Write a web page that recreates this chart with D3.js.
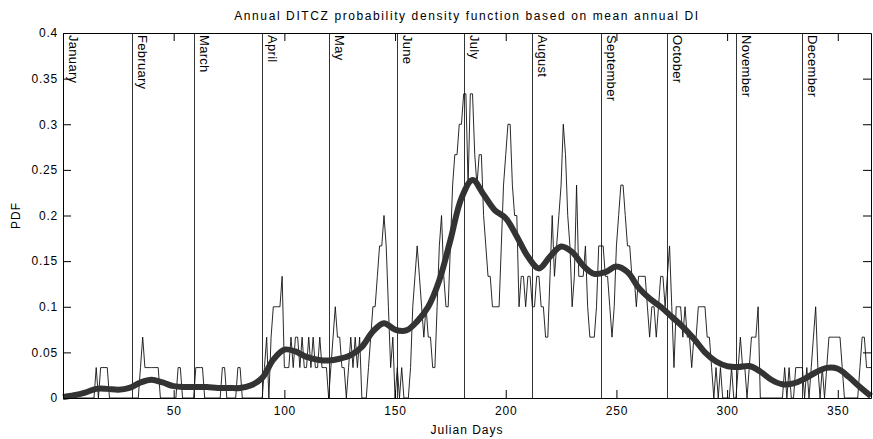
<!DOCTYPE html>
<html>
<head>
<meta charset="utf-8">
<script src="https://cdn.jsdelivr.net/npm/d3@7"></script>
<style>
  body { margin: 0; background: #fff; }
  svg { font-family: "Liberation Sans", Arial, sans-serif; }
</style>
</head>
<body>
<div id="graf"></div>
<script>
// Datos leidos de la figura
// conteo diario de anios (de 30) con DITCZ en ese dia -> PDF = conteo / 30
const conteoDiario = [
  0,0,0,0,0,0,0,0,0,0,   0,0,0,0,1,0,1,1,1,1,
  0,0,0,0,0,0,0,0,0,0,   0,0,0,0,1,2,1,1,1,1,
  1,1,1,0,0,0,0,0,0,0,   0,1,1,0,0,0,0,0,0,1,
  1,1,1,0,0,0,0,0,0,0,   0,1,1,0,0,0,0,0,1,1,
  0,0,0,0,0,0,0,0,0,0,   1,2,0,2,3,3,3,3,4,1,
  1,1,2,1,2,2,1,2,1,1,   2,1,2,1,1,2,1,1,1,0,
  1,2,3,2,2,1,1,0,1,2,   1,2,1,2,0,0,0,1,2,3,
  3,4,5,5,6,5,3,1,2,0,   1,0,1,0,0,0,1,3,4,5,
  4,3,2,3,2,2,1,1,3,5,   6,4,3,3,5,7,8,8,9,9,
  10,10,7,10,10,8,7,8,8,6, 5,4,4,3,3,3,3,5,7,8,
  9,9,7,6,6,3,4,4,3,4,   4,3,3,4,4,3,3,2,2,4,
  6,4,5,6,7,9,8,6,5,3,   4,7,4,4,4,5,3,2,2,2,
  3,5,5,5,4,4,3,2,3,5,   6,7,7,6,5,5,4,4,3,4,
  4,4,4,3,2,3,3,2,3,4,   4,3,4,5,3,1,3,3,3,2,
  3,2,2,1,2,2,3,3,3,3,   2,2,1,0,1,0,1,0,0,0,
  0,1,0,0,1,2,1,1,0,1,   2,2,2,3,0,0,0,0,0,0,
  0,0,0,0,0,1,0,1,0,0,   1,1,1,1,0,1,0,1,2,3,
  1,0,1,0,1,2,2,2,2,2,   2,1,0,0,0,0,0,0,0,1,
  2,2,1,1,1
]
const anios = 30

// curva suavizada, un valor cada 5 dias (0..365)
const diasSuave = d3.range(0, 366, 5)
const pdfSuave = [
  0.001, 0.003, 0.006, 0.010, 0.010, 0.009, 0.011, 0.017, 0.020, 0.017,
  0.013, 0.012, 0.012, 0.012, 0.011, 0.011, 0.011, 0.014, 0.022, 0.042,
  0.053, 0.051, 0.045, 0.042, 0.041, 0.043, 0.047, 0.056, 0.073, 0.082,
  0.075, 0.074, 0.084, 0.100, 0.129, 0.173, 0.219, 0.239, 0.223, 0.206,
  0.197, 0.177, 0.155, 0.142, 0.155, 0.166, 0.160, 0.145, 0.136, 0.138,
  0.144, 0.138, 0.121, 0.109, 0.100, 0.089, 0.078, 0.065, 0.050, 0.040,
  0.035, 0.034, 0.035, 0.029, 0.020, 0.015, 0.016, 0.021, 0.028, 0.033,
  0.032, 0.023, 0.012, 0.002
]

const meses = ['January','February','March','April','May','June','July',
               'August','September','October','November','December']
const inicioMes = [0, 31, 59, 90, 120, 151, 181, 212, 243, 273, 304, 334]

const ticksX = [50, 100, 150, 200, 250, 300, 350]
const ticksY = [0, 0.05, 0.1, 0.15, 0.2, 0.25, 0.3, 0.35, 0.4]

const titulo = 'Annual DITCZ probability density function based on mean annual DI'

// Tamanio
const ancho_total = 873
const alto_total = 439
const margen = { superior: 33, izquierdo: 63, derecho: 2, inferior: 41 }
const ancho = ancho_total - margen.izquierdo - margen.derecho
const alto = alto_total - margen.superior - margen.inferior

const svg = d3.select('#graf').append('svg')
  .attr('width', ancho_total)
  .attr('height', alto_total)

const g = svg.append('g')
  .attr('transform', `translate(${margen.izquierdo}, ${margen.superior})`)

const x = d3.scaleLinear().domain([0, 365]).range([0, ancho])
const y = d3.scaleLinear().domain([0, 0.4]).range([alto, 0])

// lineas de los meses
g.selectAll('line.mes').data(inicioMes.slice(1))
  .enter().append('line')
  .attr('class', 'mes')
  .attr('x1', d => Math.round(x(d)) + 0.5)
  .attr('x2', d => Math.round(x(d)) + 0.5)
  .attr('y1', 0).attr('y2', alto)
  .attr('stroke', '#333').attr('stroke-width', 1)

g.selectAll('text.mes').data(meses)
  .enter().append('text')
  .attr('class', 'mes')
  .attr('transform', (d, i) => `translate(${Math.round(x(inicioMes[i])) + 6}, 2) rotate(90)`)
  .attr('font-size', '13px')
  .attr('letter-spacing', '0.3px')
  .attr('fill', '#000')
  .text(d => d)

// linea diaria
const datosDiarios = conteoDiario.map((c, i) => ({ dia: i + 1, pdf: c / anios }))
g.append('path')
  .datum(datosDiarios)
  .attr('fill', 'none')
  .attr('stroke', '#111')
  .attr('stroke-width', 0.9)
  .attr('d', d3.line().x(d => x(d.dia)).y(d => y(d.pdf)))

// linea suavizada
const datosSuaves = diasSuave.map((d, i) => ({ dia: d, pdf: pdfSuave[i] }))
g.append('path')
  .datum(datosSuaves)
  .attr('fill', 'none')
  .attr('stroke', '#333')
  .attr('stroke-width', 6)
  .attr('stroke-linejoin', 'round')
  .attr('d', d3.line().curve(d3.curveCatmullRom).x(d => x(d.dia)).y(d => y(d.pdf)))

// ejes (ticks hacia adentro)
const formatoY = d => d === 0 ? '0' : String(+d.toFixed(2))
g.append('g').call(d3.axisLeft(y).tickValues(ticksY).tickSizeInner(-8).tickSizeOuter(0).tickPadding(5).tickFormat(formatoY))
g.append('g').attr('transform', `translate(${ancho},0)`)
  .call(d3.axisRight(y).tickValues(ticksY).tickSizeInner(-8).tickSizeOuter(0).tickFormat(''))
g.append('g').attr('transform', `translate(0,${alto})`)
  .call(d3.axisBottom(x).tickValues(ticksX).tickSizeInner(-8).tickSizeOuter(0).tickPadding(8))
g.append('g')
  .call(d3.axisTop(x).tickValues(ticksX).tickSizeInner(-8).tickSizeOuter(0).tickFormat(''))

svg.selectAll('.tick text')
  .attr('font-family', '"Liberation Sans", Arial, sans-serif')
  .attr('font-size', '12px')
  .attr('letter-spacing', '0.8px')
  .attr('fill', '#000')
svg.selectAll('.domain').attr('stroke', '#000')
svg.selectAll('.tick line').attr('stroke', '#000')

// titulo y etiquetas
svg.append('text')
  .attr('x', margen.izquierdo + ancho / 2)
  .attr('y', 20)
  .attr('text-anchor', 'middle')
  .attr('font-size', '12px')
  .attr('letter-spacing', '1.6px')
  .text(titulo)

svg.append('text')
  .attr('x', margen.izquierdo + ancho / 2)
  .attr('y', 434)
  .attr('text-anchor', 'middle')
  .attr('font-size', '12px')
  .attr('letter-spacing', '1px')
  .text('Julian Days')

svg.append('text')
  .attr('transform', `translate(20, ${margen.superior + alto / 2}) rotate(-90)`)
  .attr('text-anchor', 'middle')
  .attr('font-size', '12px')
  .attr('letter-spacing', '1px')
  .text('PDF')
</script>
</body>
</html>
